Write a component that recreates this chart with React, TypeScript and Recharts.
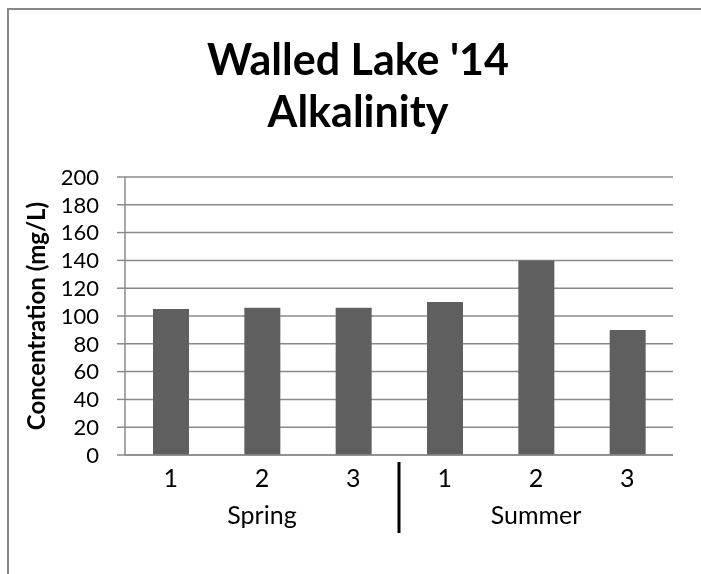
import React from 'react';
import { BarChart, Bar, XAxis, YAxis, CartesianGrid } from 'recharts';

const categories = ['1', '2', '3', '1', '2', '3'];
const groups = ['Spring', 'Spring', 'Spring', 'Summer', 'Summer', 'Summer'];
const alkalinity = [105, 106, 106, 110, 140, 90];
const yTicks = [0, 20, 40, 60, 80, 100, 120, 140, 160, 180, 200];
const titleLines = ["Walled Lake '14", 'Alkalinity'];
const yLabel = 'Concentration (mg/L)';

const data = categories.map((c, i) => ({ key: i, cat: c, group: groups[i], value: alkalinity[i] }));

const W = 685;
const H = 558;
const M = { top: 169, right: 20, bottom: 0, left: 0 };
const YW = 117;
const XH = 111;
const PLOT_W = W - M.left - M.right - YW;
const BAND = PLOT_W / categories.length;
const FONT = 'Lato, "Open Sans", sans-serif';

const XTick = (props: any) => {
  const { x, y, index } = props;
  const i = index as number;
  const els: React.ReactNode[] = [];
  els.push(
    <text key="n" x={x} y={y + 32} textAnchor="middle" fontSize={25} fontFamily={FONT} fill="#000">
      {categories[i]}
    </text>
  );
  const start = groups.indexOf(groups[i]);
  const end = groups.lastIndexOf(groups[i]);
  if (i === start) {
    const cx = x + ((end - start) / 2) * BAND;
    els.push(
      <text key="g" x={cx} y={y + 69} textAnchor="middle" fontSize={25} fontFamily={FONT} fill="#000">
        {groups[i]}
      </text>
    );
  }
  if (i > 0 && groups[i] !== groups[i - 1]) {
    els.push(
      <line key="s" x1={x - BAND / 2} x2={x - BAND / 2} y1={y + 7} y2={y + 78} stroke="#000" strokeWidth={3} />
    );
  }
  return <g>{els}</g>;
};

export default function App() {
  return (
    <div style={{ position: 'relative', width: W, height: H }}>
      <div
        style={{
          position: 'fixed',
          left: 7,
          top: 8,
          width: 694,
          height: 566,
          borderTop: '2px solid #888',
          borderLeft: '2px solid #888',
          boxSizing: 'border-box',
          pointerEvents: 'none',
        }}
      />
      <BarChart width={W} height={H} data={data} margin={M} barCategoryGap={0}>
        <CartesianGrid vertical={false} stroke="#8a8a8a" strokeWidth={1.5} />
        <XAxis
          dataKey="key"
          height={XH}
          axisLine={{ stroke: '#8a8a8a', strokeWidth: 1.5 }}
          tickLine={false}
          tickSize={0}
          tickMargin={0}
          interval={0}
          tick={<XTick />}
        />
        <YAxis
          width={YW}
          domain={[0, 200]}
          ticks={yTicks}
          interval={0}
          axisLine={{ stroke: '#8a8a8a', strokeWidth: 1.5 }}
          tickLine={{ stroke: '#8a8a8a', strokeWidth: 1.5 }}
          tickSize={8}
          tickMargin={18}
          tick={{ fontSize: 22, fontFamily: FONT, fill: '#000' }}
        />
        <Bar dataKey="value" fill="#5f5f5f" barSize={36} isAnimationActive={false} />
      </BarChart>
      <svg width={W} height={H} style={{ position: 'absolute', left: 0, top: 0, pointerEvents: 'none' }}>
        {titleLines.map((t, i) => (
          <text key={i} x={350} y={67 + i * 52} textAnchor="middle" fontSize={43} fontWeight="bold" fontFamily={FONT} fill="#000">
            {t}
          </text>
        ))}
        <text
          x={0}
          y={0}
          transform="translate(37,308) rotate(-90)"
          textAnchor="middle"
          fontSize={24}
          fontWeight="bold"
          fontFamily={FONT}
          fill="#000"
        >
          {yLabel}
        </text>
      </svg>
    </div>
  );
}
